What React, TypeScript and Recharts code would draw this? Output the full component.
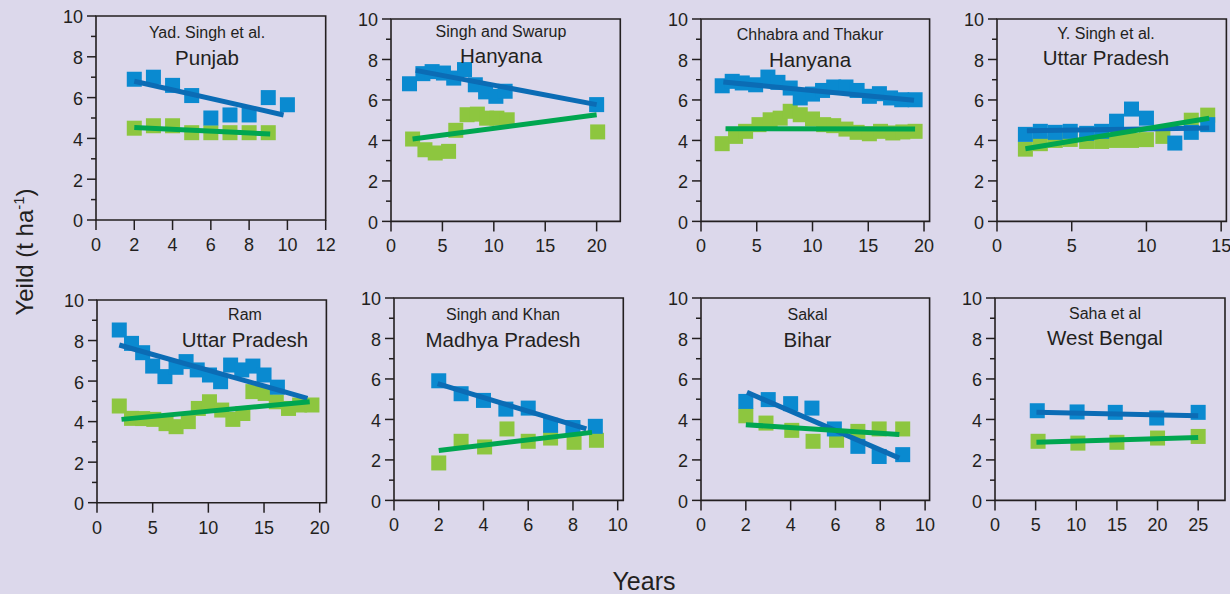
import React from "react";
import {
  ComposedChart,
  Scatter,
  XAxis,
  YAxis,
  ReferenceArea,
} from "recharts";

// ---- data ----
const punjabBlue = [[2, 6.9], [3, 7.0], [4, 6.6], [5, 6.1], [6, 5.0], [7, 5.15], [8, 5.15], [9, 6.0], [10, 5.65]];
const punjabGreen = [[2, 4.5], [3, 4.62], [4, 4.62], [5, 4.28], [6, 4.28], [7, 4.28], [8, 4.28], [9, 4.28]];
const punjabBlueTrend = [[2, 6.8], [9.8, 5.15]];
const punjabGreenTrend = [[2, 4.53], [9.1, 4.22]];

const swarupBlue = [[1.8, 6.8], [3.1, 7.3], [4, 7.4], [5.1, 7.33], [6.1, 7.08], [7.15, 7.5], [8.2, 6.75], [9.2, 6.4], [10.2, 6.18], [11.1, 6.43], [20, 5.77]];
const swarupGreen = [[2.1, 4.07], [3.3, 3.54], [4.3, 3.38], [5.6, 3.46], [6.3, 4.5], [7.4, 5.27], [8.4, 5.3], [9.3, 5.1], [10.3, 5.1], [11.3, 5.02], [20.1, 4.42]];
const swarupBlueTrend = [[2.4, 7.46], [20, 5.77]];
const swarupGreenTrend = [[2.1, 4.07], [20, 5.27]];

const chhabraBlue = [[1.9, 6.7], [2.8, 6.92], [3.7, 6.84], [4.9, 6.75], [6, 7.13], [6.9, 6.87], [8, 6.59], [8.9, 6.1], [10, 6.29], [10.9, 6.47], [11.9, 6.64], [13, 6.64], [14, 6.47], [15.1, 6.18], [16, 6.31], [17, 6.1], [18, 6.01], [19.2, 6.01]];
const chhabraGreen = [[1.9, 3.84], [3.1, 4.2], [4, 4.45], [5.2, 4.78], [6.2, 5.02], [7.1, 5.1], [8, 5.44], [8.9, 5.27], [10, 5.06], [11, 4.78], [11.9, 4.73], [13, 4.56], [14, 4.4], [15.1, 4.33], [16.1, 4.45], [17.2, 4.37], [18.1, 4.42], [19.2, 4.45]];
const chhabraBlueTrend = [[2, 6.89], [19.1, 5.98]];
const chhabraGreenTrend = [[2.2, 4.58], [19.2, 4.56]];

const ysinghBlue = [[1.9, 4.3], [2.9, 4.45], [3.9, 4.4], [4.9, 4.45], [6, 4.35], [7, 4.45], [8, 4.95], [9, 5.55], [10, 5.1], [11.9, 3.87], [13, 4.4], [14.1, 4.78]];
const ysinghGreen = [[1.9, 3.57], [2.9, 3.84], [3.9, 4.0], [4.9, 4.05], [6, 3.95], [7, 3.95], [8, 4.0], [9, 4.0], [10, 4.04], [11.1, 4.2], [13, 5.0], [14.1, 5.25]];
const ysinghBlueTrend = [[2, 4.48], [14.2, 4.61]];
const ysinghGreenTrend = [[1.9, 3.59], [14.2, 5.1]];

const ramBlue = [[2, 8.52], [3.1, 7.86], [4.1, 7.4], [5, 6.74], [6.1, 6.22], [7.1, 6.68], [8, 6.96], [9, 6.55], [10.1, 6.3], [11.1, 5.97], [12, 6.79], [13, 6.55], [14, 6.74], [15, 6.3], [16.2, 5.7]];
const ramGreen = [[2, 4.77], [3.1, 4.16], [4.1, 4.15], [5.1, 4.11], [6.2, 3.9], [7.1, 3.75], [8.2, 4.0], [9.1, 4.65], [10.1, 4.98], [11.2, 4.57], [12.2, 4.11], [13.1, 4.4], [14, 5.48], [15.1, 5.39], [16.1, 4.98], [17.2, 4.65], [18.2, 4.82], [19.3, 4.82]];
const ramBlueTrend = [[2, 7.78], [18.9, 5.15]];
const ramGreenTrend = [[2.2, 4.11], [19.1, 4.98]];

const khanBlue = [[2, 5.91], [3, 5.27], [4, 4.94], [5, 4.51], [6, 4.56], [7, 3.71], [8, 3.6], [9, 3.66]];
const khanGreen = [[2, 1.85], [3, 2.92], [4.05, 2.64], [5.05, 3.53], [6, 2.92], [7, 3.08], [8.05, 2.87], [9.05, 2.97]];
const khanBlueTrend = [[1.95, 5.77], [8.6, 3.53]];
const khanGreenTrend = [[2, 2.47], [8.85, 3.36]];

const sakalBlue = [[2, 4.89], [3, 4.98], [4, 4.78], [4.95, 4.56], [5.95, 3.53], [7, 2.67], [7.95, 2.17], [9, 2.26]];
const sakalGreen = [[2, 4.18], [2.9, 3.82], [4.05, 3.46], [5, 2.92], [6.05, 2.97], [7, 3.41], [7.95, 3.53], [9, 3.53]];
const sakalBlueTrend = [[2.05, 5.34], [8.85, 2.09]];
const sakalGreenTrend = [[2, 3.74], [8.85, 3.25]];

const sahaBlue = [[5.2, 4.43], [10.1, 4.37], [14.8, 4.35], [19.9, 4.07], [25, 4.35]];
const sahaGreen = [[5.3, 2.92], [10.2, 2.83], [15, 2.87], [20, 3.08], [25, 3.16]];
const sahaBlueTrend = [[5.1, 4.35], [25, 4.18]];
const sahaGreenTrend = [[5.1, 2.87], [25, 3.11]];

const yTicks = [0, 1, 2, 3, 4, 5, 6, 7, 8, 9, 10];
const ticksBy2 = [0, 2, 4, 6, 8, 10];
const ticksBy2To12 = [0, 2, 4, 6, 8, 10, 12];
const ticksBy5To15 = [0, 5, 10, 15];
const ticksBy5To20 = [0, 5, 10, 15, 20];
const ticksBy5To25 = [0, 5, 10, 15, 20, 25];

const authors = ["Yad. Singh et al.", "Singh and Swarup", "Chhabra and Thakur", "Y. Singh et al.", "Ram", "Singh and Khan", "Sakal", "Saha et al"];
const regions = ["Punjab", "Hanyana", "Hanyana", "Uttar Pradesh", "Uttar Pradesh", "Madhya Pradesh", "Bihar", "West Bengal"];

// ---- styling ----
const BG = "#dcd8eb";
const INK = "#231f20";
const BLUE_PT = "#0a8ad0";
const BLUE_LN = "#0b6cb5";
const GREEN_PT = "#8dc63f";
const GREEN_LN = "#00a650";
const FONT = "'Liberation Sans', Arial, Helvetica, sans-serif";

const toPts = (arr: number[][]) => arr.map(([x, y]) => ({ x, y }));

type Panel = {
  left: number;
  top: number;
  w: number;
  h: number;
  xMax: number;
  xTicks: number[];
  blue: number[][];
  green: number[][];
  blueTrend: number[][];
  greenTrend: number[][];
  title: [number, number, number]; // centre x, author baseline, region baseline
};

const panels: Panel[] = [
  { left: 96, top: 16, w: 229.7, h: 204, xMax: 12, xTicks: ticksBy2To12, blue: punjabBlue, green: punjabGreen, blueTrend: punjabBlueTrend, greenTrend: punjabGreenTrend, title: [207, 38, 65] },
  { left: 390.7, top: 19.3, w: 229.3, h: 202.4, xMax: 22.3, xTicks: ticksBy5To20, blue: swarupBlue, green: swarupGreen, blueTrend: swarupBlueTrend, greenTrend: swarupGreenTrend, title: [501, 37, 63] },
  { left: 700.7, top: 19.3, w: 228.6, h: 202.4, xMax: 20.5, xTicks: ticksBy5To20, blue: chhabraBlue, green: chhabraGreen, blueTrend: chhabraBlueTrend, greenTrend: chhabraGreenTrend, title: [810, 40, 66.5] },
  { left: 997.3, top: 19.3, w: 229.4, h: 202.4, xMax: 15.35, xTicks: ticksBy5To15, blue: ysinghBlue, green: ysinghGreen, blueTrend: ysinghBlueTrend, greenTrend: ysinghGreenTrend, title: [1106, 39, 65] },
  { left: 97.3, top: 300, w: 229.4, h: 202.7, xMax: 20.6, xTicks: ticksBy5To20, blue: ramBlue, green: ramGreen, blueTrend: ramBlueTrend, greenTrend: ramGreenTrend, title: [245, 320, 346.5] },
  { left: 394, top: 298.3, w: 229.3, h: 202.4, xMax: 10.25, xTicks: ticksBy2, blue: khanBlue, green: khanGreen, blueTrend: khanBlueTrend, greenTrend: khanGreenTrend, title: [503, 320, 346.5] },
  { left: 700.7, top: 298.3, w: 228.6, h: 202.4, xMax: 10.2, xTicks: ticksBy2, blue: sakalBlue, green: sakalGreen, blueTrend: sakalBlueTrend, greenTrend: sakalGreenTrend, title: [807.5, 320, 346.5] },
  { left: 995, top: 298.3, w: 230, h: 202.4, xMax: 28.3, xTicks: ticksBy5To25, blue: sahaBlue, green: sahaGreen, blueTrend: sahaBlueTrend, greenTrend: sahaGreenTrend, title: [1105, 318.5, 344.5] },
];

const Y_AXIS_W = 40;
const X_AXIS_H = 40;
const M_TOP = 14;
const M_RIGHT = 16;

const square = (fill: string) => (props: any) => {
  const { cx, cy } = props;
  if (cx == null || cy == null) return <g />;
  return <rect x={cx - 7.5} y={cy - 7.5} width={15} height={15} fill={fill} />;
};

const noDot = () => <g />;

const YTick = (props: any) => {
  const { x, y, payload } = props;
  const v = payload.value as number;
  const major = v % 2 === 0;
  return (
    <g>
      <line x1={x - (major ? 9 : 5)} x2={x} y1={y} y2={y} stroke={INK} strokeWidth={1.5} />
      {major && (
        <text x={x - 13} y={y + 7.5} textAnchor="end" fontSize={18} fontFamily={FONT} fill={INK}>
          {v}
        </text>
      )}
    </g>
  );
};

const XTick = (props: any) => {
  const { x, y, payload } = props;
  return (
    <g>
      <line x1={x} x2={x} y1={y} y2={y + 10} stroke={INK} strokeWidth={1.5} />
      <text x={x} y={y + 31} textAnchor="middle" fontSize={18} fontFamily={FONT} fill={INK}>
        {payload.value}
      </text>
    </g>
  );
};

function PanelChart({ p }: { p: Panel }) {
  const width = Y_AXIS_W + p.w + M_RIGHT;
  const height = M_TOP + p.h + X_AXIS_H;
  return (
    <div style={{ position: "absolute", left: p.left - Y_AXIS_W, top: p.top - M_TOP }}>
      <ComposedChart
        width={width}
        height={height}
        margin={{ top: M_TOP, right: M_RIGHT, bottom: 0, left: 0 }}
      >
        <XAxis
          type="number"
          dataKey="x"
          domain={[0, p.xMax]}
          ticks={p.xTicks}
          interval={0}
          height={X_AXIS_H}
          axisLine={false}
          tickLine={false}
          tickSize={0}
          tickMargin={0}
          tick={<XTick />}
          allowDataOverflow
        />
        <YAxis
          type="number"
          dataKey="y"
          domain={[0, 10]}
          ticks={yTicks}
          interval={0}
          width={Y_AXIS_W}
          axisLine={false}
          tickLine={false}
          tickSize={0}
          tickMargin={0}
          tick={<YTick />}
          allowDataOverflow
        />
        <ReferenceArea x1={0} x2={p.xMax} y1={0} y2={10} fill="none" stroke={INK} strokeWidth={1.6} ifOverflow="visible" />
        <Scatter data={toPts(p.green)} fill={GREEN_PT} shape={square(GREEN_PT)} isAnimationActive={false} />
        <Scatter data={toPts(p.blue)} fill={BLUE_PT} shape={square(BLUE_PT)} isAnimationActive={false} />
        <Scatter
          data={toPts(p.blueTrend)}
          line={{ stroke: BLUE_LN, strokeWidth: 5 }}
          shape={noDot}
          isAnimationActive={false}
        />
        <Scatter
          data={toPts(p.greenTrend)}
          line={{ stroke: GREEN_LN, strokeWidth: 5 }}
          shape={noDot}
          isAnimationActive={false}
        />
      </ComposedChart>
    </div>
  );
}

export default function App() {
  return (
    <div
      style={{
        position: "absolute",
        left: 0,
        top: 0,
        width: 1230,
        height: 594,
        background: BG,
        overflow: "hidden",
        fontFamily: FONT,
      }}
    >
      {panels.map((p, i) => (
        <PanelChart key={i} p={p} />
      ))}
      <svg
        width={1230}
        height={594}
        style={{ position: "absolute", left: 0, top: 0, pointerEvents: "none" }}
      >
        {panels.map((p, i) => (
          <g key={i} fill={INK} fontFamily={FONT} textAnchor="middle">
            <text x={p.title[0]} y={p.title[1]} fontSize={16}>
              {authors[i]}
            </text>
            <text x={p.title[0]} y={p.title[2]} fontSize={20.5}>
              {regions[i]}
            </text>
          </g>
        ))}
        <text x={644} y={590} fontSize={25} textAnchor="middle" fill={INK} fontFamily={FONT}>
          Years
        </text>
        <text
          transform="translate(33,252) rotate(-90)"
          fontSize={24}
          textAnchor="middle"
          fill={INK}
          fontFamily={FONT}
        >
          Yeild (t ha
          <tspan fontSize={15} dy={-9}>-1</tspan>
          <tspan dy={9}>)</tspan>
        </text>
      </svg>
    </div>
  );
}
